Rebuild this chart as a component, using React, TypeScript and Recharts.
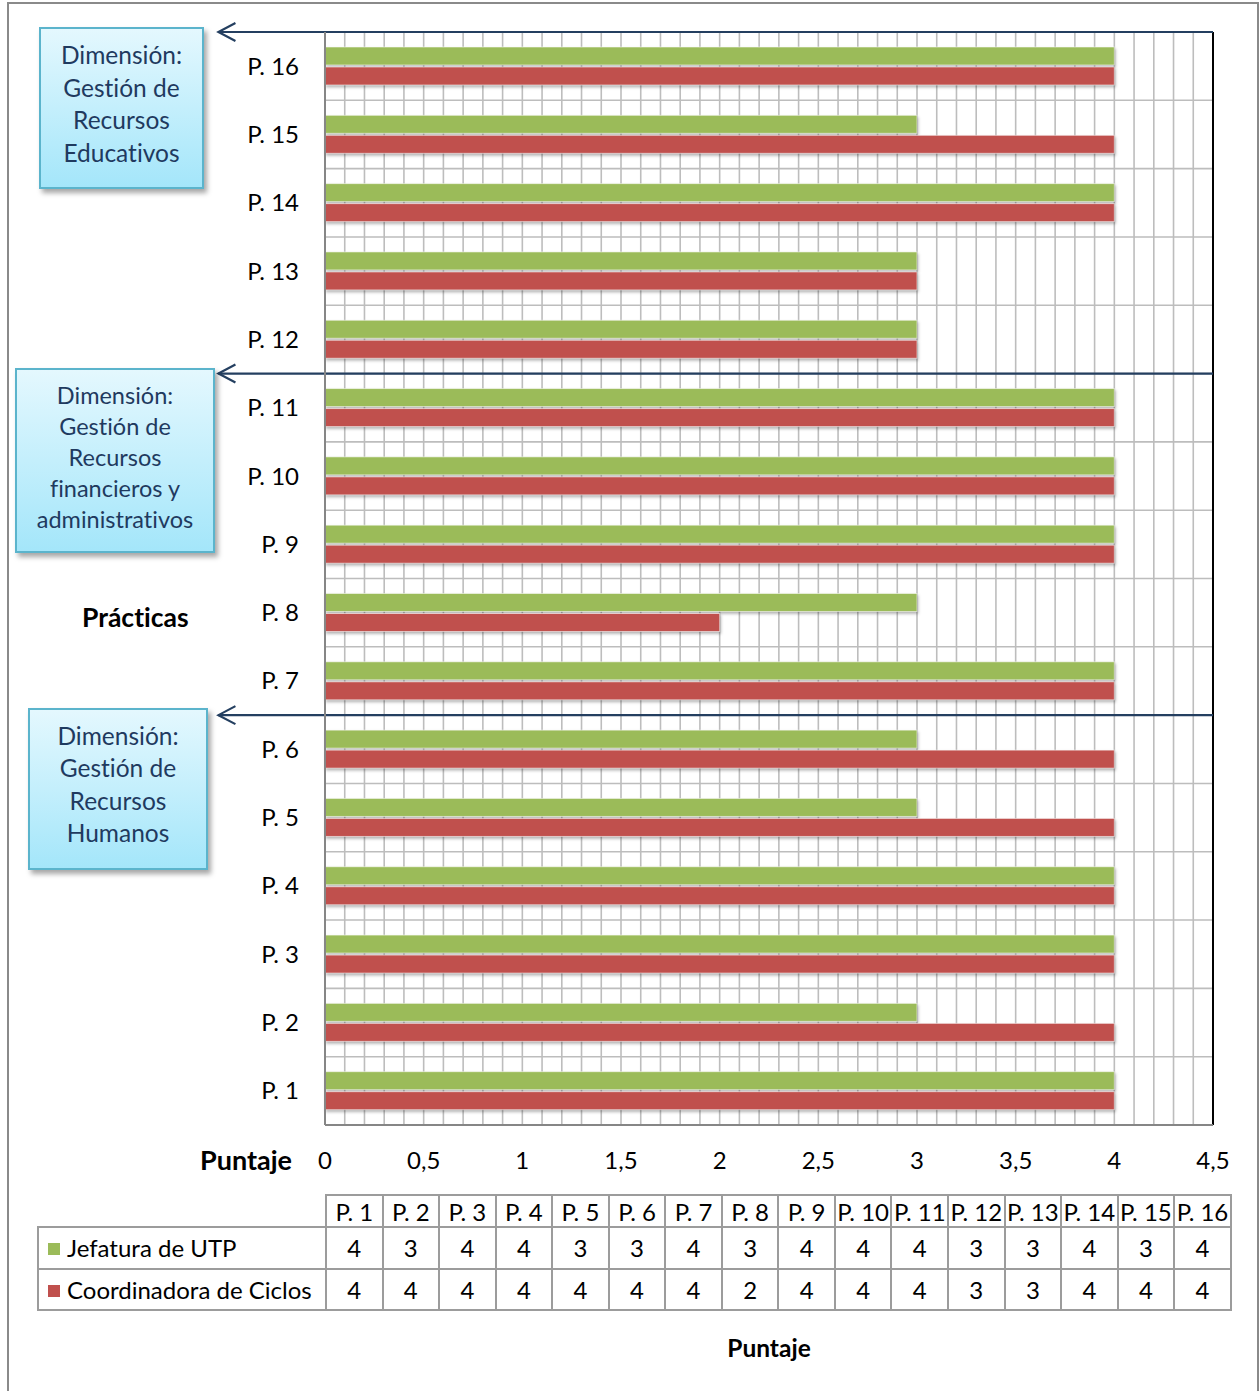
import { BarChart, Bar, XAxis, YAxis, CartesianGrid, ReferenceLine } from 'recharts';

// Prácticas evaluadas, de abajo hacia arriba en el gráfico
const CATEGORIES = [
  'P. 1', 'P. 2', 'P. 3', 'P. 4', 'P. 5', 'P. 6', 'P. 7', 'P. 8',
  'P. 9', 'P. 10', 'P. 11', 'P. 12', 'P. 13', 'P. 14', 'P. 15', 'P. 16',
];

const JEFATURA_UTP = [4, 3, 4, 4, 3, 3, 4, 3, 4, 4, 4, 3, 3, 4, 3, 4];
const COORDINADORA_CICLOS = [4, 4, 4, 4, 4, 4, 4, 2, 4, 4, 4, 3, 3, 4, 4, 4];

const SERIES = [
  { key: 'utp', name: 'Jefatura de UTP', color: '#9BBB59', values: JEFATURA_UTP },
  { key: 'ciclos', name: 'Coordinadora de Ciclos', color: '#C0504D', values: COORDINADORA_CICLOS },
];

const X_MAX = 4.5;
const X_LABEL_TICKS = [0, 0.5, 1, 1.5, 2, 2.5, 3, 3.5, 4, 4.5];
const X_GRID_TICKS = [
  0, 0.1, 0.2, 0.3, 0.4, 0.5, 0.6, 0.7, 0.8, 0.9,
  1, 1.1, 1.2, 1.3, 1.4, 1.5, 1.6, 1.7, 1.8, 1.9,
  2, 2.1, 2.2, 2.3, 2.4, 2.5, 2.6, 2.7, 2.8, 2.9,
  3, 3.1, 3.2, 3.3, 3.4, 3.5, 3.6, 3.7, 3.8, 3.9,
  4, 4.1, 4.2, 4.3, 4.4, 4.5,
];

// Cada dimensión empieza en el borde superior de su primera práctica
const DIMENSIONS = [
  { start: 'P. 16', lines: ['Dimensión:', 'Gestión de', 'Recursos', 'Educativos'] },
  { start: 'P. 11', lines: ['Dimensión:', 'Gestión de', 'Recursos', 'financieros y', 'administrativos'] },
  { start: 'P. 6', lines: ['Dimensión:', 'Gestión de', 'Recursos', 'Humanos'] },
];
const ARROW_TIP = -0.54;

const FONT = 'Lato, "Open Sans", sans-serif';

const rows = CATEGORIES.map((name, i) => ({
  name,
  utp: JEFATURA_UTP[i],
  ciclos: COORDINADORA_CICLOS[i],
}));

const formatTick = (v: number) =>
  X_LABEL_TICKS.includes(v) ? String(v).replace('.', ',') : '';

function ShadowBar(props: any) {
  const { x, y, width, height, fill } = props;
  if (!width || width <= 0) return null;
  return (
    <rect
      x={x}
      y={y}
      width={width}
      height={height}
      fill={fill}
      stroke="rgba(255,255,255,0.55)"
      strokeWidth={1}
      style={{ filter: 'drop-shadow(1px 2px 1.5px rgba(0,0,0,0.3))' }}
    />
  );
}

function ArrowShape(props: any) {
  const { x1, y1, x2, y2 } = props;
  const tipX = Math.min(x1, x2);
  const tipY = tipX === x1 ? y1 : y2;
  const endX = Math.max(x1, x2);
  const endY = tipX === x1 ? y2 : y1;
  return (
    <g>
      <line x1={endX} y1={endY} x2={tipX} y2={tipY} stroke="#243F60" strokeWidth={2.2} />
      <polyline
        points={`${tipX + 17},${tipY - 9} ${tipX},${tipY} ${tipX + 17},${tipY + 9}`}
        fill="none"
        stroke="#243F60"
        strokeWidth={2.2}
      />
    </g>
  );
}

const boxStyle = {
  position: 'absolute' as const,
  boxSizing: 'border-box' as const,
  border: '2px solid #5BB4CC',
  background: 'linear-gradient(to bottom, #E4F8FE 0%, #C4EFFC 50%, #A4E6FA 100%)',
  boxShadow: '3px 4px 5px rgba(0,0,0,0.35)',
  color: '#1F3A5F',
  textAlign: 'center' as const,
  fontFamily: FONT,
};

const BOX_LAYOUT = [
  { left: 39, top: 27, width: 165, height: 162, fontSize: 24.5, lineHeight: 32.5 },
  { left: 15, top: 368, width: 200, height: 185, fontSize: 23.5, lineHeight: 31 },
  { left: 28, top: 708, width: 180, height: 162, fontSize: 24.5, lineHeight: 32.3 },
];

const cellBorder = '2px solid #9C9C9C';
const tickStyle = { fill: '#000', fontSize: 24, fontFamily: FONT };

export default function App() {
  return (
    <div
      style={{
        position: 'absolute',
        left: 0,
        top: 0,
        width: 1260,
        height: 1391,
        overflow: 'hidden',
        background: '#fff',
        fontFamily: FONT,
        fontVariantLigatures: 'none',
      }}
    >
      <div
        style={{
          position: 'absolute',
          left: 7,
          top: 2,
          width: 1252,
          height: 1400,
          boxSizing: 'border-box',
          border: '2px solid #8A8A8A',
        }}
      />

      <div style={{ position: 'absolute', left: 0, top: 0 }}>
        <BarChart
          layout="vertical"
          width={1260}
          height={1200}
          data={rows}
          margin={{ top: 32, right: 47, bottom: 15, left: 0 }}
          barSize={18}
          barGap={2}
        >
          <CartesianGrid horizontal={false} stroke="#BDBDBD" strokeWidth={1.6} />
          <XAxis
            type="number"
            domain={[0, X_MAX]}
            ticks={X_GRID_TICKS}
            interval={0}
            tickFormatter={formatTick}
            tickLine={false}
            tickSize={0}
            tickMargin={27}
            height={60}
            axisLine={{ stroke: '#868686', strokeWidth: 2 }}
            tick={tickStyle}
            label={{
              value: 'Puntaje',
              position: 'left',
              offset: 33,
              dy: 5,
              fill: '#000',
              fontSize: 27,
              fontWeight: 700,
              fontFamily: FONT,
            }}
          />
          <YAxis
            type="category"
            dataKey="name"
            reversed
            width={325}
            interval={0}
            tickLine={false}
            tickSize={0}
            tickMargin={26}
            axisLine={{ stroke: '#868686', strokeWidth: 2 }}
            tick={tickStyle}
          />
          {CATEGORIES.map((c) => (
            <ReferenceLine key={`g-${c}`} y={c} position="start" stroke="#BDBDBD" strokeWidth={1.6} />
          ))}
          {SERIES.map((s) => (
            <Bar
              key={s.key}
              dataKey={s.key}
              name={s.name}
              fill={s.color}
              shape={ShadowBar}
              isAnimationActive={false}
            />
          ))}
          <ReferenceLine x={X_MAX} stroke="#000" strokeWidth={2} />
          {DIMENSIONS.map((d) => (
            <ReferenceLine
              key={`a-${d.start}`}
              segment={[
                { x: X_MAX, y: d.start },
                { x: ARROW_TIP, y: d.start },
              ]}
              position="start"
              ifOverflow="visible"
              shape={ArrowShape}
            />
          ))}
        </BarChart>
      </div>

      {DIMENSIONS.map((d, i) => {
        const b = BOX_LAYOUT[i];
        return (
          <div
            key={d.start}
            style={{
              ...boxStyle,
              left: b.left,
              top: b.top,
              width: b.width,
              height: b.height,
              paddingTop: 10,
              fontSize: b.fontSize,
              lineHeight: `${b.lineHeight}px`,
            }}
          >
            {d.lines.map((l) => (
              <div key={l} style={{ whiteSpace: 'nowrap' }}>{l}</div>
            ))}
          </div>
        );
      })}

      <div
        style={{
          position: 'absolute',
          left: 82,
          top: 600,
          fontSize: 26.5,
          fontWeight: 700,
          lineHeight: '34px',
          color: '#000',
        }}
      >
        Prácticas
      </div>

      <table
        style={{
          position: 'absolute',
          left: 37,
          top: 1194,
          borderCollapse: 'collapse',
          tableLayout: 'fixed',
          fontSize: 24,
          color: '#000',
        }}
      >
        <colgroup>
          <col style={{ width: 288 }} />
          {CATEGORIES.map((c) => (
            <col key={c} style={{ width: 56.56 }} />
          ))}
        </colgroup>
        <tbody>
          <tr style={{ height: 32 }}>
            <td style={{ border: 'none', padding: 0 }} />
            {CATEGORIES.map((c) => (
              <td key={c} style={{ border: cellBorder, padding: 0, textAlign: 'center', whiteSpace: 'nowrap' }}>
                {c}
              </td>
            ))}
          </tr>
          {SERIES.map((s) => (
            <tr key={s.key} style={{ height: 41.5 }}>
              <td style={{ border: cellBorder, padding: '0 0 0 9px', whiteSpace: 'nowrap' }}>
                <span
                  style={{
                    display: 'inline-block',
                    width: 12,
                    height: 12,
                    background: s.color,
                    marginRight: 7,
                    verticalAlign: 'middle',
                    position: 'relative',
                    top: -2,
                  }}
                />
                {s.name}
              </td>
              {s.values.map((v, i) => (
                <td key={i} style={{ border: cellBorder, padding: 0, textAlign: 'center' }}>
                  {v}
                </td>
              ))}
            </tr>
          ))}
        </tbody>
      </table>

      <div
        style={{
          position: 'absolute',
          left: 0,
          width: 1538,
          top: 1331,
          textAlign: 'center',
          fontSize: 24.5,
          fontWeight: 700,
          lineHeight: '34px',
          color: '#000',
        }}
      >
        Puntaje
      </div>
    </div>
  );
}
